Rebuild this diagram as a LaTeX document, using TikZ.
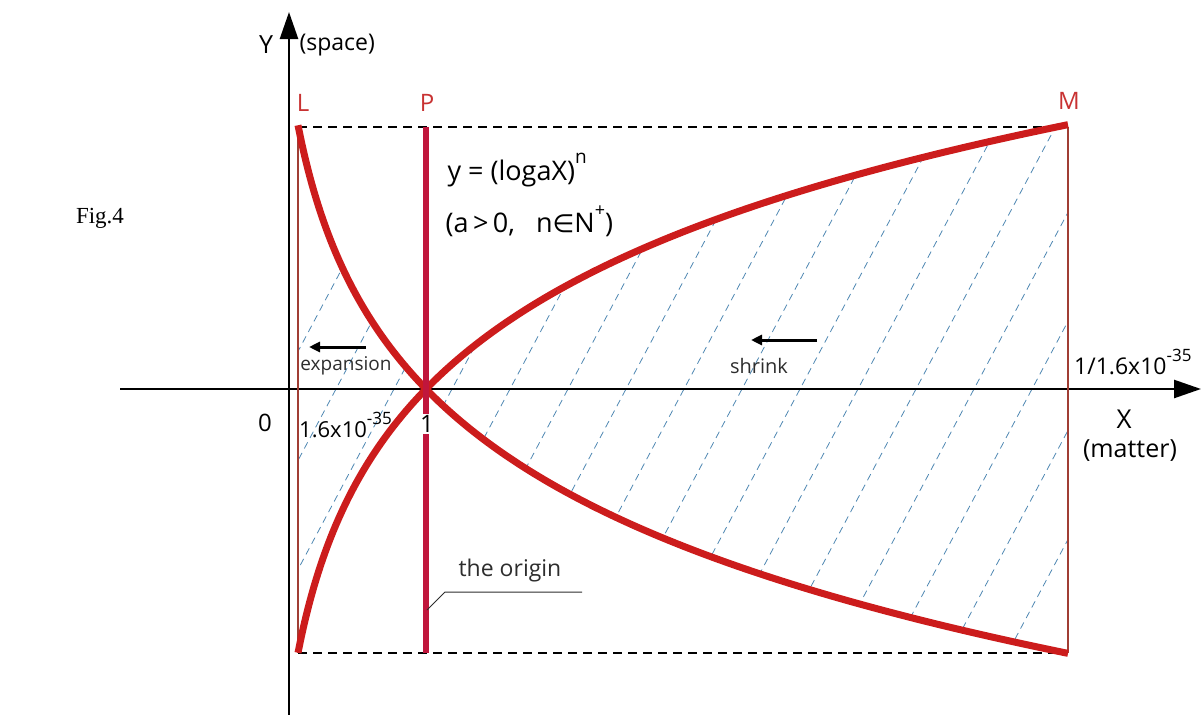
\documentclass[tikz,border=0pt]{standalone}
\usepackage{fontspec}
\setmainfont{Open Sans}
\newfontfamily\figfont{Liberation Serif}
\newfontfamily\symfont{DejaVu Sans}
\usetikzlibrary{arrows.meta}
\definecolor{curvered}{RGB}{204,28,28}
\definecolor{pcrimson}{RGB}{192,22,60}
\definecolor{edgebrown}{RGB}{160,62,52}
\definecolor{lblred}{RGB}{200,50,50}
\definecolor{hatchblue}{RGB}{78,135,178}
\definecolor{txtgray}{RGB}{45,45,45}
\newcommand{\sz}[1]{\fontsize{#1}{#1}\selectfont}
\newcommand{\up}[2][17]{\raisebox{.6em}{\sz{#1}#2}}
\tikzset{
  curve/.style={curvered, line width=7pt},
  hatch/.style={hatchblue, line width=.8pt, dash pattern=on 7pt off 5pt},
  boxdash/.style={black, line width=2.2pt, dash pattern=on 9pt off 6pt},
  edge/.style={edgebrown, line width=2pt},
  lbl/.style={lblred, font=\sz{24}},
  small arrow/.style={line width=3pt, -{Triangle[length=11pt,width=10pt]}}
}
\begin{document}
\begin{tikzpicture}[x=1pt, y=-1pt, line join=round, font=\sz{22}, >={Triangle[length=27pt,width=18pt]}]
	\def\xL{298} \def\xP{426} \def\xM{1068}
	\def\yT{127} \def\yO{389} \def\yB{653}
	\useasboundingbox (0,0) rectangle (1203,715);
	% hatching between the two curves
	\begin{scope}
		\clip plot[domain=\xL:\xM, samples=150] (\x,{\yO-164*ln((\x-266)/160)}) -- plot[domain=\xM:\xL, samples=150] (\x,{\yO+164*ln((\x-266)/160)}) -- cycle;
		\foreach \k in {-8,...,8}
			\draw[hatch] ({742+58*\k-150},{\yO+282}) -- ++(300,-564);
	\end{scope}
	\draw[->, line width=2.5pt] (120,\yO) -- (1201,\yO);
	\draw[->, line width=2.5pt] (289,715) -- (289,12);
	\draw[boxdash] (\xL,\yT) -- (\xM,\yT);
	\draw[boxdash] (\xL,\yB) -- (\xM,\yB);
	\draw[edge] (\xL,\yT) -- (\xL,\yB);
	\draw[edge] (\xM,\yT) -- (\xM,\yB);
	\draw[curve, smooth] plot[domain=\xL:\xM, samples=200] (\x,{\yO-164*ln((\x-266)/160)});
	\draw[curve, smooth] plot[domain=\xL:\xM, samples=200] (\x,{\yO+164*ln((\x-266)/160)});
	\draw[pcrimson, line width=6pt] (\xP,\yT) -- (\xP,\yB);
	% labels
	\node (fig) at (100,218) {\figfont\sz{23}Fig.4};
	\node (ylab) at (266,45) {\sz{25}Y};
	\node[anchor=west] (space) at (296,45) {\sz{23}(space)};
	\node[lbl] (L) at (303,103) {L};
	\node[lbl] (P) at (427,103) {P};
	\node[lbl] (M) at (1069,101) {M};
	\node[anchor=west, font=\sz{27}] (law) at (444,170) {y\ =\ (logaX)\up[19]{n}};
	\node[anchor=west, font=\sz{27}] (cond) at (442,221) {(a\,>\,0,\ \ \ n{\symfont\sz{25}∈}N\up[18]{+})};
	\node[txtgray, font=\sz{19}] (expand) at (346,366) {expansion};
	\node[txtgray, font=\sz{20}] (shrink) at (759,366) {shrink};
	\draw[small arrow] (366,347) -- (309,347);
	\draw[small arrow] (817,340) -- (751,340);
	\node (zero) at (265,423) {\sz{24}0};
	\node[anchor=west, inner sep=1pt] (small) at (298,425) {1.6x10\up{-35}};
	\node[fill=white, inner sep=1pt] (one) at (427,424) {\sz{24}1};
	\node[anchor=west, inner sep=1pt] (large) at (1073,362) {\sz{23}1/1.6x10\up{-35}};
	\node (xlab) at (1124,419) {\sz{26}X};
	\node (matter) at (1130,451) {\sz{25}(matter)};
	\node[txtgray, font=\sz{23}] (origin) at (510,571) {the origin};
	\coordinate (knee) at (445,592);
	\draw[txtgray, line width=1pt] (\xP+1,610) -- (knee) -- (582,592);
\end{tikzpicture}
\end{document}
